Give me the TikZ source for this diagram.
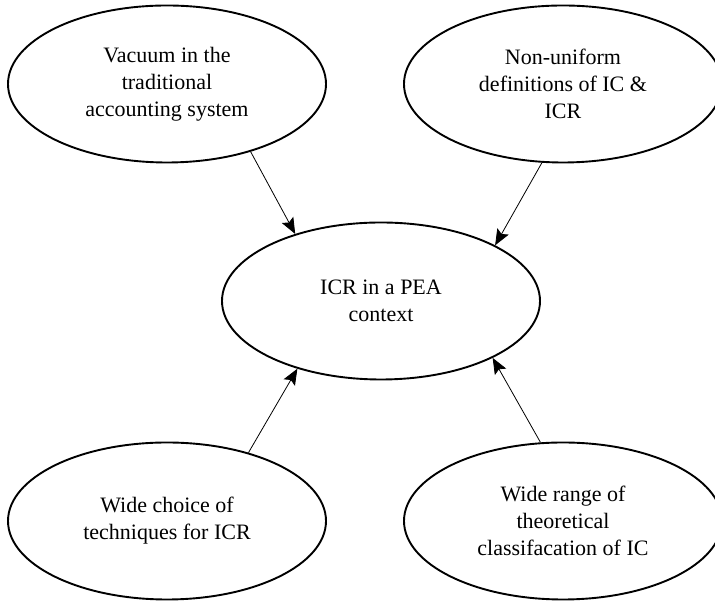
\documentclass[tikz,border=0pt]{standalone}
\usepackage{fontspec}
\setmainfont{Liberation Serif}
\usetikzlibrary{shapes.geometric,arrows.meta}

\begin{document}
\begin{tikzpicture}[x=1pt,y=1pt,
  bubble/.style={ellipse, draw, line width=1.9pt, minimum width=318pt,
    minimum height=157pt, inner sep=0pt, align=center,
    font=\fontsize{22}{27}\selectfont},
  link/.style={line width=0.8pt,
    -{Stealth[length=16pt,width=13pt,inset=3pt]}}]
\useasboundingbox (0,0) rectangle (715,601);

% outer factors and the central topic
\node[bubble] (tl) at (167,517) {Vacuum in the\\traditional\\accounting system};
\node[bubble] (tr) at (563,517) {Non-uniform\\definitions of IC \&\\ICR};
\node[bubble] (c)  at (381,300) {ICR in a PEA\\context};
\node[bubble] (bl) at (167,80)  {Wide choice of\\techniques for ICR};
\node[bubble] (br) at (563,80)  {Wide range of\\theoretical\\classifacation of IC};

% influences pointing to the centre
\draw[link] (tl.-39) -- (c.142);
\draw[link] (tr.255) -- (c.26);
\draw[link] (bl.40)  -- (c.219);
\draw[link] (br.106) -- (c.-27);
\end{tikzpicture}
\end{document}
